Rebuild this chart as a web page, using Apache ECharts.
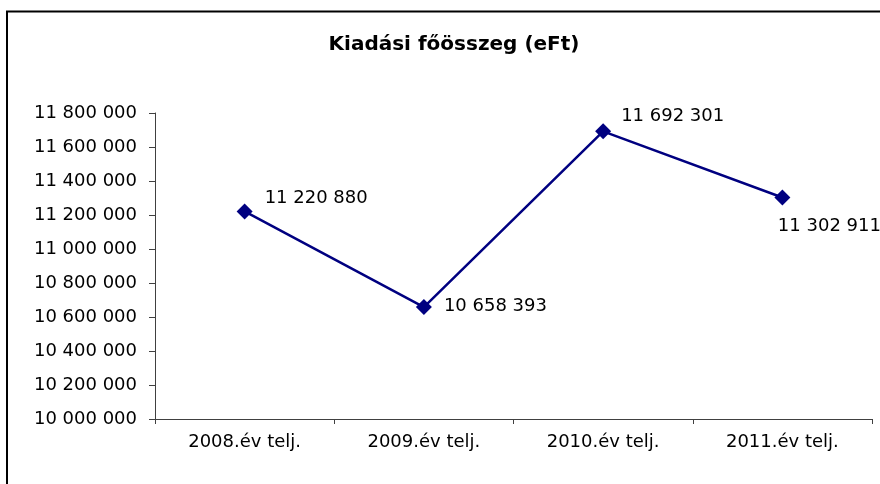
<!DOCTYPE html>
<html>
<head>
<meta charset="utf-8">
<script src="https://cdn.jsdelivr.net/npm/echarts@6/dist/echarts.min.js"></script>
<style>
  html, body { margin: 0; padding: 0; background: #fff; }
  #chart { width: 880px; height: 484px; }
</style>
</head>
<body>
<div id="chart"></div>
<script>
var categories = ["2008.év telj.", "2009.év telj.", "2010.év telj.", "2011.év telj."];
var values = [11220880, 10658393, 11692301, 11302911];
var yMin = 10000000;
var yMax = 11800000;
var yStep = 200000;

// label placement per point (like the Excel auto placement)
var labelPlace = [
  { position: "right", offset: [7, -13] },
  { position: "right", offset: [7, -1] },
  { position: "right", offset: [5, -15] },
  { position: "bottom", offset: [47, 7] },
];

function fmt(v) {
  return String(v).replace(/\B(?=(\d{3})+(?!\d))/g, " ");
}

var chart = echarts.init(document.getElementById("chart"));
var font = "'DejaVu Sans', sans-serif";

var option = {
  backgroundColor: "#ffffff",
  animation: false,
  title: {
    text: "Kiadási főösszeg (eFt)",
    left: 449,
    textAlign: "center",
    top: 30,
    textStyle: {
      fontFamily: font,
      fontSize: 20,
      fontWeight: "bold",
      color: "#000",
    },
  },
  graphic: [
    {
      type: "rect",
      shape: { x: 7, y: 11.5, width: 1000, height: 1000 },
      style: { fill: "none", stroke: "#000", lineWidth: 2 },
      silent: true,
    },
  ],
  grid: {
    left: 155,
    right: 8,
    top: 113,
    bottom: 65,
  },
  xAxis: {
    type: "category",
    data: categories,
    boundaryGap: true,
    axisLine: { lineStyle: { color: "#404040", width: 1 } },
    axisTick: { show: true, length: 5, lineStyle: { color: "#404040" } },
    axisLabel: {
      fontFamily: font,
      fontSize: 18,
      color: "#000",
      margin: 14,
    },
  },
  yAxis: {
    type: "value",
    min: yMin,
    max: yMax,
    interval: yStep,
    splitLine: { show: false },
    axisLine: { show: true, lineStyle: { color: "#404040", width: 1 } },
    axisTick: { show: true, length: 6, lineStyle: { color: "#404040" } },
    axisLabel: {
      fontFamily: font,
      fontSize: 18,
      color: "#000",
      margin: 18,
      formatter: function (v) {
        return fmt(v);
      },
    },
  },
  series: [
    {
      type: "line",
      symbol: "diamond",
      symbolSize: 16,
      lineStyle: { color: "#000080", width: 2.5 },
      itemStyle: { color: "#000080" },
      label: {
        show: true,
        fontFamily: font,
        fontSize: 18,
        color: "#000",
        formatter: function (p) {
          return fmt(p.value);
        },
      },
      data: values.map(function (v, i) {
        return { value: v, label: labelPlace[i] };
      }),
    },
  ],
};

chart.setOption(option);
</script>
</body>
</html>
